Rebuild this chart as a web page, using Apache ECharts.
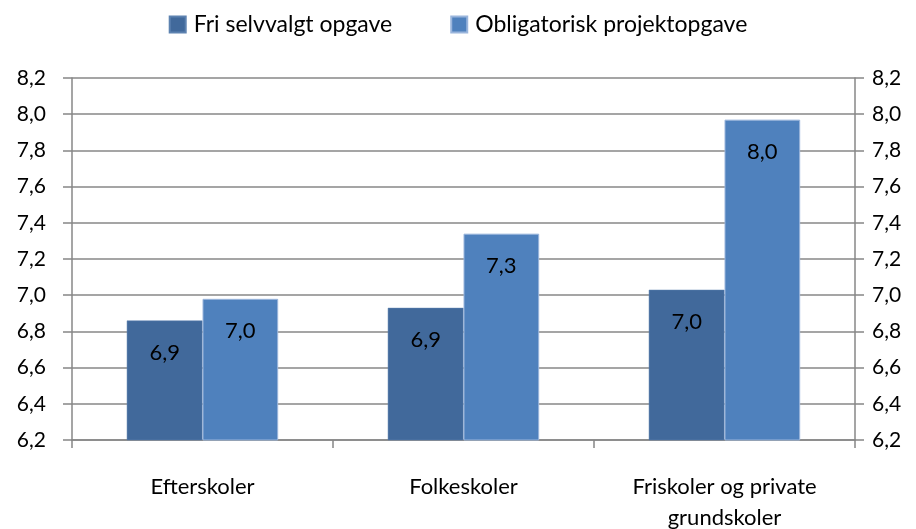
<!DOCTYPE html>
<html>
<head>
<meta charset="utf-8">
<script src="https://cdn.jsdelivr.net/npm/echarts@6/dist/echarts.min.js"></script>
<style>
  html, body { margin: 0; padding: 0; background: #fff; }
  #chart { width: 916px; height: 529px; }
</style>
</head>
<body>
<div id="chart"></div>
<script>
// categories and values
const categories = ["Efterskoler", "Folkeskoler", "Friskoler og private\ngrundskoler"];
const seriesNames = ["Fri selvvalgt opgave", "Obligatorisk projektopgave"];
const friValues = [6.86, 6.93, 7.03];
const obligValues = [6.98, 7.34, 7.97];
const yMin = 6.2;
const yMax = 8.2;
const yStep = 0.2;

const font = "Lato, 'Open Sans', sans-serif";
const gridColor = "#878787";

// comma as decimal mark
const fmt = v => Number(v).toFixed(1).replace(".", ",");

const chart = echarts.init(document.getElementById("chart"));

const valueAxis = (pos, margin) => ({
    type: "value",
    position: pos,
    min: yMin,
    max: yMax,
    interval: yStep,
    axisLine: { show: true, lineStyle: { color: gridColor, width: 1.5 } },
    axisTick: { show: true, length: 9, lineStyle: { color: gridColor, width: 1.5 } },
    axisLabel: {
        color: "#000",
        fontFamily: font,
        fontSize: 21,
        margin: margin,
        formatter: fmt
    },
    splitLine: { show: pos === "left", lineStyle: { color: gridColor, width: 1.5 } }
});

const labelOpt = {
    show: true,
    position: "insideTop",
    distance: 21,
    color: "#000",
    fontFamily: font,
    fontSize: 22,
    formatter: p => fmt(p.value)
};

chart.setOption({
    animation: false,
    color: ["#41699b", "#4f81bd"],
    legend: {
        top: 8,
        left: "center",
        itemWidth: 16,
        itemHeight: 16,
        itemGap: 58,
        icon: "rect",
        textStyle: { fontFamily: font, fontSize: 23, color: "#000", padding: [0, 0, 0, 3] },
        data: seriesNames
    },
    grid: { left: 72, right: 61, top: 78, bottom: 89, containLabel: false, outerBoundsMode: "none" },
    xAxis: {
        type: "category",
        data: categories,
        axisLine: { lineStyle: { color: gridColor, width: 1.5 } },
        axisTick: { show: true, length: 8, lineStyle: { color: gridColor, width: 1.5 } },
        axisLabel: {
            color: "#000",
            fontFamily: font,
            fontSize: 22,
            margin: 31,
            lineHeight: 31
        }
    },
    yAxis: [valueAxis("left", 26), valueAxis("right", 17)],
    series: [
        {
            name: seriesNames[0],
            type: "bar",
            data: friValues,
            barGap: "0%",
            barCategoryGap: "42%",
            itemStyle: { borderColor: "#5d82b0", borderWidth: 0.5 },
            label: labelOpt
        },
        {
            name: seriesNames[1],
            type: "bar",
            data: obligValues,
            itemStyle: { borderColor: "#9ab5dc", borderWidth: 1 },
            label: labelOpt
        }
    ]
});
</script>
</body>
</html>
